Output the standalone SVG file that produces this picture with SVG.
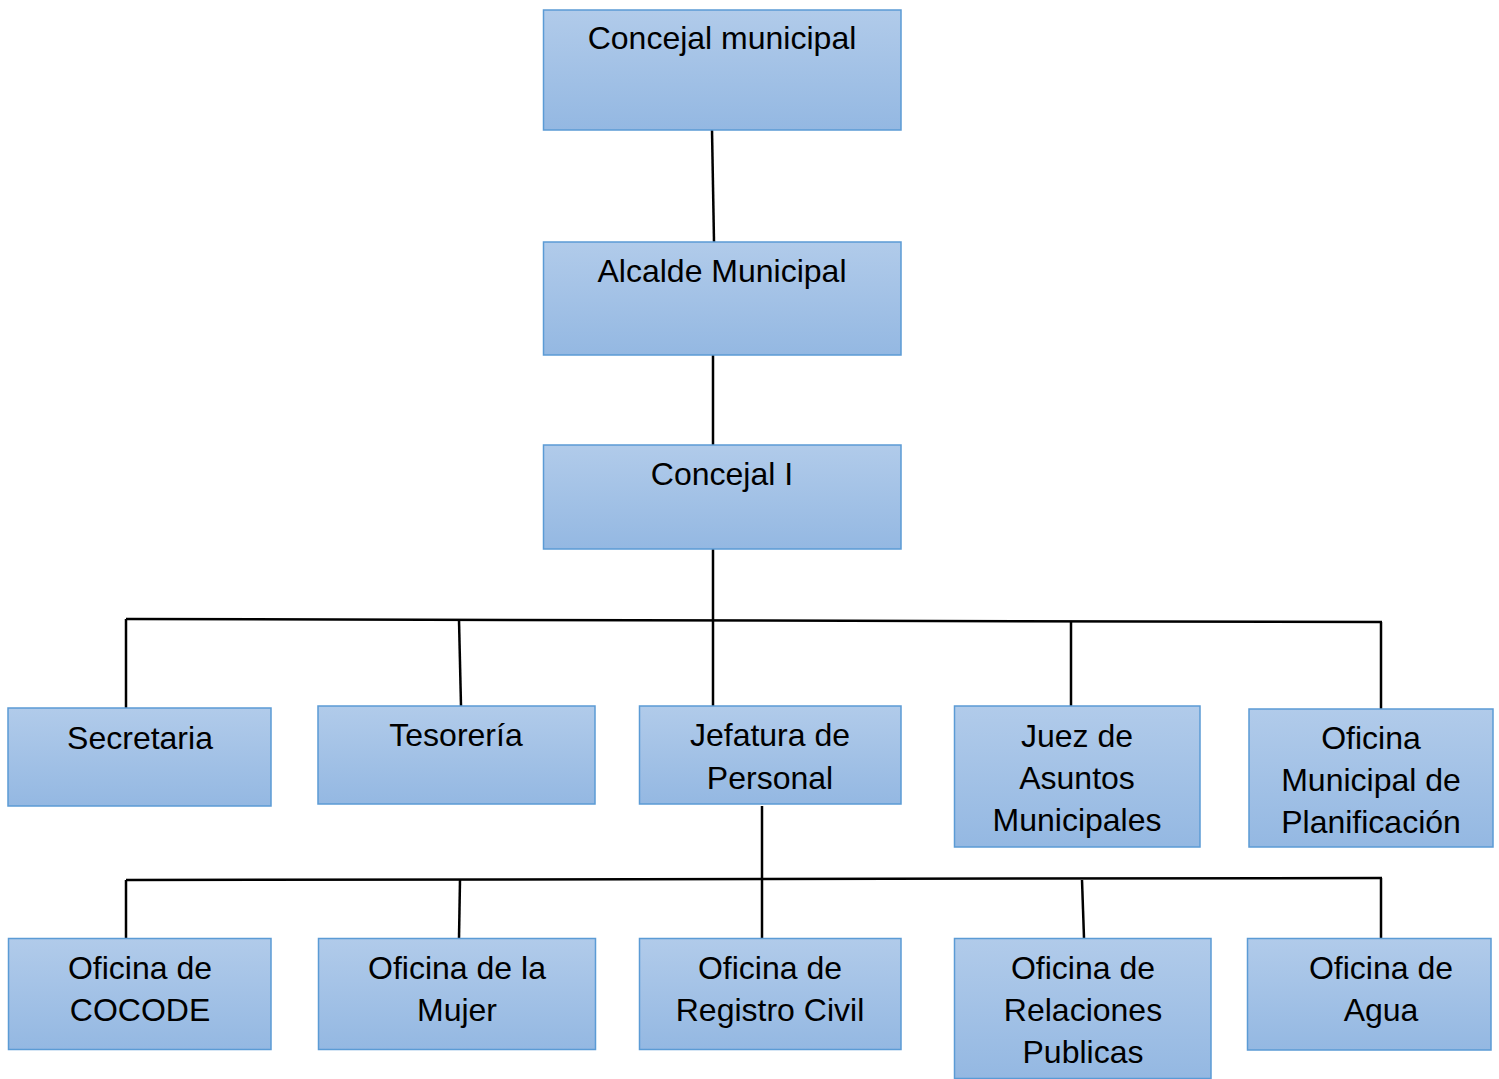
<svg xmlns="http://www.w3.org/2000/svg" width="1499" height="1079" viewBox="0 0 1499 1079">
<defs>
<linearGradient id="g" x1="0" y1="0" x2="0" y2="1">
<stop offset="0" stop-color="#b1cbea"/>
<stop offset="1" stop-color="#94b8e2"/>
</linearGradient>
<style>
.box{fill:url(#g);stroke:#5b9bd5;stroke-width:1.5}
.t{font-family:"Liberation Sans",Arial,sans-serif;font-size:32px;fill:#000;text-anchor:middle}
.c{stroke:#000;stroke-width:2.5;fill:none}
</style>
</defs>
<rect width="1499" height="1079" fill="#fff"/>
<g id="connectors">
<line class="c" x1="712" y1="130" x2="714" y2="242"/>
<line class="c" x1="713" y1="355" x2="713" y2="445"/>
<line class="c" x1="713" y1="549" x2="713" y2="706"/>
<line class="c" x1="126" y1="619" x2="1382" y2="622"/>
<line class="c" x1="126" y1="619" x2="126" y2="708"/>
<line class="c" x1="459" y1="620" x2="461" y2="706"/>
<line class="c" x1="1071" y1="621" x2="1071" y2="707"/>
<line class="c" x1="1381" y1="622" x2="1381" y2="709"/>
<line class="c" x1="762" y1="806" x2="762" y2="938"/>
<line class="c" x1="126" y1="880" x2="1382" y2="878"/>
<line class="c" x1="126" y1="880" x2="126" y2="938"/>
<line class="c" x1="460" y1="880" x2="459" y2="938"/>
<line class="c" x1="1082" y1="880" x2="1084" y2="938"/>
<line class="c" x1="1381" y1="878" x2="1381" y2="938"/>
</g>
<g id="n1"><rect class="box" x="543.5" y="10" width="357.5" height="120"/><text class="t" x="722" y="49">Concejal municipal</text></g>
<g id="n2"><rect class="box" x="543.5" y="242" width="357.5" height="113"/><text class="t" x="722" y="282">Alcalde Municipal</text></g>
<g id="n3"><rect class="box" x="543.5" y="445" width="357.5" height="104"/><text class="t" x="722" y="485">Concejal I</text></g>
<g id="n4"><rect class="box" x="8" y="708" width="263" height="98"/><text class="t" x="140" y="749">Secretaria</text></g>
<g id="n5"><rect class="box" x="318" y="706" width="277" height="98"/><text class="t" x="456" y="746">Tesorería</text></g>
<g id="n6"><rect class="box" x="639.5" y="706" width="261.5" height="98"/><text class="t" x="770" y="746">Jefatura de</text><text class="t" x="770" y="789">Personal</text></g>
<g id="n7"><rect class="box" x="954.5" y="706" width="245.5" height="141"/><text class="t" x="1077" y="747">Juez de</text><text class="t" x="1077" y="789">Asuntos</text><text class="t" x="1077" y="831">Municipales</text></g>
<g id="n8"><rect class="box" x="1249" y="709" width="244" height="138"/><text class="t" x="1371" y="749">Oficina</text><text class="t" x="1371" y="791">Municipal de</text><text class="t" x="1371" y="833">Planificación</text></g>
<g id="n9"><rect class="box" x="8.5" y="938.5" width="262.5" height="111"/><text class="t" x="140" y="979">Oficina de</text><text class="t" x="140" y="1021">COCODE</text></g>
<g id="n10"><rect class="box" x="318.5" y="938.5" width="277" height="111"/><text class="t" x="457" y="979">Oficina de la</text><text class="t" x="457" y="1021">Mujer</text></g>
<g id="n11"><rect class="box" x="639.5" y="938.5" width="261.5" height="111"/><text class="t" x="770" y="979">Oficina de</text><text class="t" x="770" y="1021">Registro Civil</text></g>
<g id="n12"><rect class="box" x="954.5" y="938.5" width="256.5" height="140"/><text class="t" x="1083" y="979">Oficina de</text><text class="t" x="1083" y="1021">Relaciones</text><text class="t" x="1083" y="1063">Publicas</text></g>
<g id="n13"><rect class="box" x="1247.5" y="938.5" width="243.5" height="111.5"/><text class="t" x="1381" y="979">Oficina de</text><text class="t" x="1381" y="1021">Agua</text></g>
</svg>
